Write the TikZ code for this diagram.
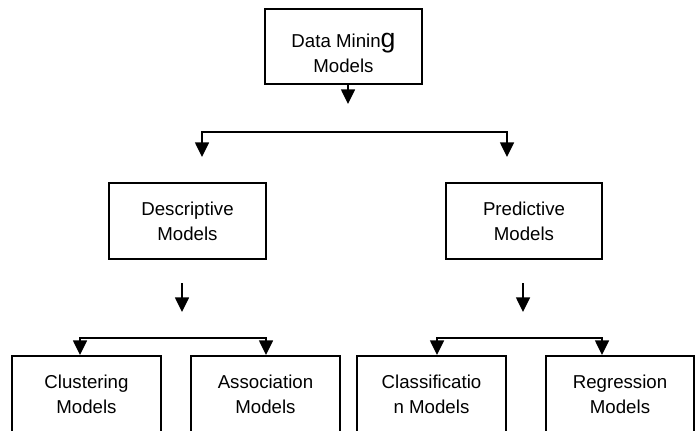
\documentclass[tikz,border=0pt]{standalone}
\usepackage{fontspec}
\setmainfont{Liberation Sans}
\usetikzlibrary{arrows.meta}
\begin{document}
\begin{tikzpicture}[x=0.75pt,y=-0.75pt,
  box/.style={draw,line width=1.3pt,inner sep=0pt,align=center,
    font=\fontsize{14}{18.5}\selectfont},
  bigbox/.style={box,minimum width=117.5pt,minimum height=57pt},
  smallbox/.style={box,minimum width=111.75pt,minimum height=57pt},
  lbl/.style={inner sep=0pt,align=center,font=\fontsize{14}{18.5}\selectfont},
  arr/.style={line width=1.1pt,-{Triangle[width=10.5pt,length=11pt]}},
  arr2/.style={line width=1.1pt,{Triangle[width=10.5pt,length=11pt]}-{Triangle[width=10.5pt,length=11pt]}}]
\useasboundingbox (0,0) rectangle (699,430);
\clip (0,0) rectangle (699,430);
% top
\node[bigbox,minimum height=56.25pt] (dm) at (343.5,46.5) {};
\node[lbl] (dmtext) at (343.5,53) {Data Minin{\fontsize{20}{18.5}\selectfont g}\\Models};
% second level
\node[bigbox] (desc) at (187.5,221) {Descriptive\\Models};
\node[bigbox,minimum width=117pt] (pred) at (524,221) {Predictive\\Models};
% third level
\node[smallbox] (clus) at (86.5,394) {Clustering\\Models};
\node[smallbox] (assoc) at (265.5,394) {Association\\Models};
\node[smallbox] (class) at (431.5,394) {Classificatio\\n Models};
\node[smallbox,minimum width=111pt] (regr) at (620,394) {Regression\\Models};
% coordinates
\coordinate (a1) at (348,104);
\coordinate (t1) at (202,157);
\coordinate (t2) at (507,157);
\coordinate (h1) at (507,132);
\coordinate (d1) at (182,283);
\coordinate (d2) at (182,312);
\coordinate (p1) at (523,283);
\coordinate (p2) at (523,312);
\coordinate (l1) at (80,355);
\coordinate (l2) at (266,355);
\coordinate (lh) at (266,338);
\coordinate (r1) at (437,355);
\coordinate (r2) at (602,355);
\coordinate (rh) at (602,338);
% connectors
\draw[arr] (a1 |- dm.south) -- (a1);
\draw[arr2] (t1) |- (h1) -- (t2);
\draw[arr] (d1) -- (d2);
\draw[arr] (p1) -- (p2);
\draw[arr2] (l1) |- (lh) -- (l2);
\draw[arr2] (r1) |- (rh) -- (r2);
\end{tikzpicture}
\end{document}
